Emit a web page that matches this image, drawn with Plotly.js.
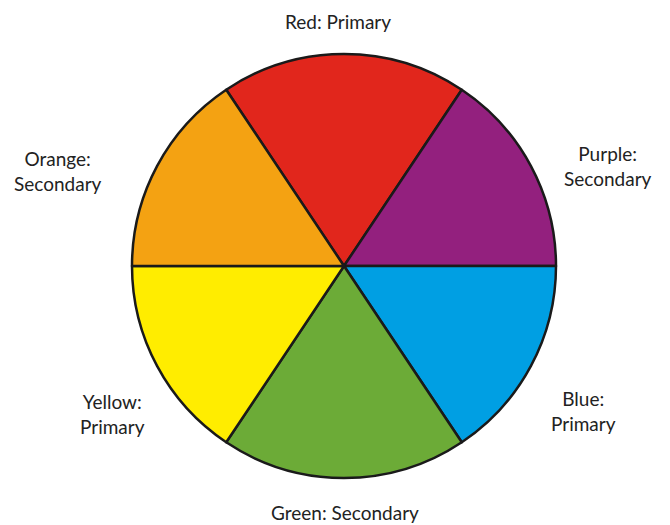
<!DOCTYPE html>
<html>
<head>
<meta charset="utf-8">
<script src="https://cdn.plot.ly/plotly-3.0.1.min.js"></script>
<style>html,body{margin:0;padding:0;background:#fff;}#chart{width:670px;height:525px;}</style>
</head>
<body>
<div id="chart"></div>
<script>
var categories = ["Red", "Purple", "Blue", "Green", "Yellow", "Orange"];
var values = [6, 5, 5, 6, 5, 5];
var roles = ["Primary", "Secondary", "Primary", "Secondary", "Primary", "Secondary"];
var colors = ["#E1261C", "#93207E", "#009FE3", "#6CAB37", "#FFED00", "#F4A212"];
var labelTexts = ["Red: Primary", "Purple:<br>Secondary", "Blue:<br>Primary", "Green: Secondary", "Yellow:<br>Primary", "Orange:<br>Secondary"];
var labelPos = [[338, 21], [608, 166], [583, 411], [345, 512], [112, 414], [58, 171]];

var W = 670, H = 525;
var annotations = labelTexts.map(function (t, i) {
  return {
    text: t, showarrow: false, xref: "paper", yref: "paper",
    x: labelPos[i][0] / W, y: 1 - labelPos[i][1] / H,
    xanchor: "center", yanchor: "middle", align: "center",
    font: {family: "Lato, 'Open Sans', sans-serif", size: 19, color: "#222"}
  };
});

var cx = 344, cy = 266, r = 212;
var trace = {
  type: "pie",
  labels: categories.map(function (c, i) { return c + ": " + roles[i]; }),
  values: values,
  sort: false,
  direction: "clockwise",
  rotation: -33.75,
  textinfo: "none",
  hoverinfo: "label",
  marker: {colors: colors, line: {color: "#1a1a1a", width: 2.5}},
  domain: {x: [(cx - r) / W, (cx + r) / W], y: [1 - (cy + r) / H, 1 - (cy - r) / H]},
  showlegend: false
};

Plotly.newPlot("chart", [trace], {
  width: W, height: H,
  margin: {l: 0, r: 0, t: 0, b: 0},
  paper_bgcolor: "#fff",
  showlegend: false,
  annotations: annotations
}, {displayModeBar: false, staticPlot: true});
</script>
</body>
</html>
